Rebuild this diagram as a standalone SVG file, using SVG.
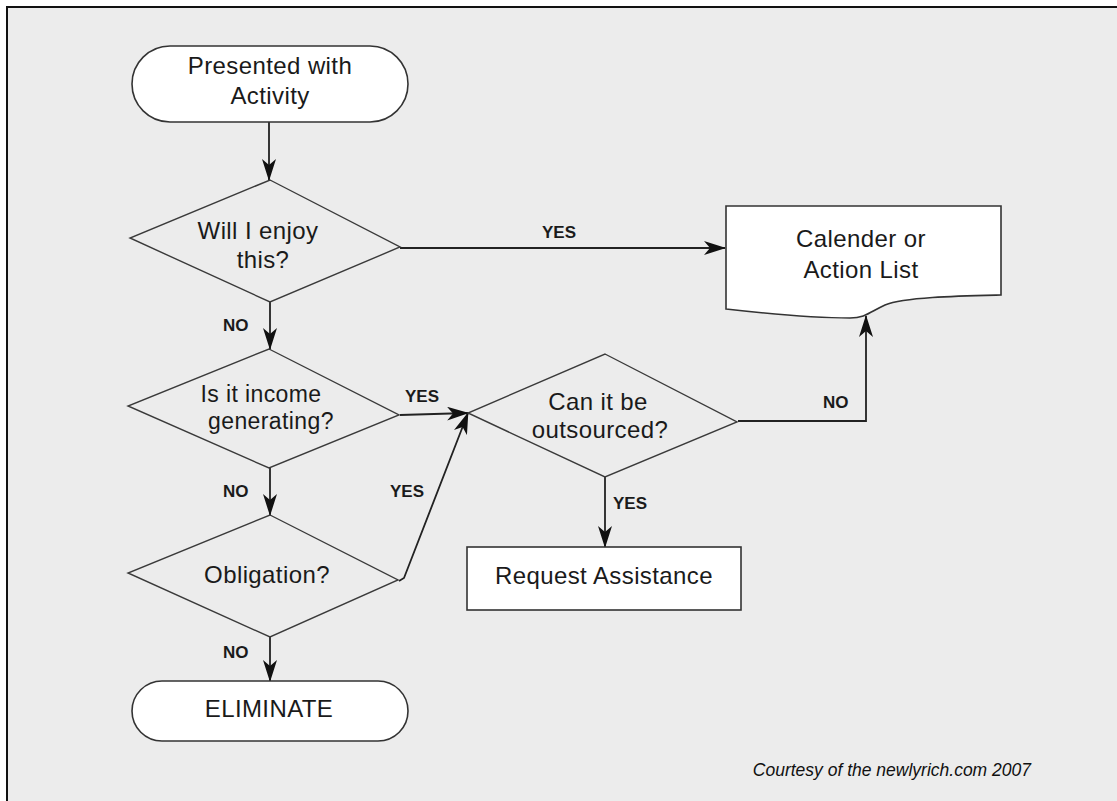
<svg xmlns="http://www.w3.org/2000/svg" width="1117" height="801" viewBox="0 0 1117 801">
<defs>
<style>
.shape{fill:#fff;stroke:#333;stroke-width:1.6}
.dia{fill:none;stroke:#3a3a3a;stroke-width:1.4}
.conn{fill:none;stroke:#222;stroke-width:1.8}
.t{font-family:"Liberation Sans",Arial,sans-serif;font-size:24px;letter-spacing:0.4px;fill:#1a1a1a;text-anchor:middle}
.lbl{font-family:"Liberation Sans",Arial,sans-serif;font-size:17px;font-weight:bold;fill:#1a1a1a}
.credit{font-family:"Liberation Sans",Arial,sans-serif;font-size:17.5px;font-style:italic;fill:#111}
</style>
<marker id="ah" viewBox="0 0 22 14" refX="21" refY="7" markerWidth="22" markerHeight="14" markerUnits="userSpaceOnUse" orient="auto">
<path d="M0,0 L22,7 L0,14 L6,7 Z" fill="#111"/>
</marker>
</defs>
<rect x="0" y="0" width="1117" height="801" fill="#fff"/>
<rect x="7" y="7" width="1110" height="794" fill="#ececec"/>
<line x1="6" y1="7" x2="1117" y2="7" stroke="#111" stroke-width="2"/>
<line x1="7" y1="6" x2="7" y2="801" stroke="#111" stroke-width="2"/>

<g id="connectors">
<path class="conn" d="M269,122 V180" marker-end="url(#ah)"/>
<path class="conn" d="M270,302 V349" marker-end="url(#ah)"/>
<path class="conn" d="M270,468 V515" marker-end="url(#ah)"/>
<path class="conn" d="M270,637 V681" marker-end="url(#ah)"/>
<path class="conn" d="M400,248 H725" marker-end="url(#ah)"/>
<path class="conn" d="M400,415 L468,413" marker-end="url(#ah)"/>
<path class="conn" d="M399,581 L404,578 L468,413" marker-end="url(#ah)"/>
<path class="conn" d="M738,421 H866 V316" marker-end="url(#ah)"/>
<path class="conn" d="M605,477 V547" marker-end="url(#ah)"/>
<text class="lbl" x="542" y="238">YES</text>
<text class="lbl" x="223" y="331">NO</text>
<text class="lbl" x="223" y="497">NO</text>
<text class="lbl" x="223" y="658">NO</text>
<text class="lbl" x="405" y="402">YES</text>
<text class="lbl" x="390" y="497">YES</text>
<text class="lbl" x="613" y="509">YES</text>
<text class="lbl" x="823" y="408">NO</text>
</g>

<g id="start">
<rect class="shape" x="132" y="46" width="276" height="76" rx="38" ry="38"/>
<text class="t" x="270" y="74">Presented with</text>
<text class="t" x="270" y="104">Activity</text>
</g>

<g id="enjoy">
<polygon class="dia" points="270,180 400,247 270,302 130,238"/>
<text class="t" x="258" y="239">Will I enjoy</text>
<text class="t" x="263" y="268">this?</text>
</g>

<g id="income">
<polygon class="dia" points="269,349 399,415 269,468 128,406"/>
<text class="t" x="261" y="402" style="font-size:23px">Is it income</text>
<text class="t" x="271" y="429" style="font-size:23px">generating?</text>
</g>

<g id="obligation">
<polygon class="dia" points="270,515 398,580 270,637 128,573"/>
<text class="t" x="267" y="583">Obligation?</text>
</g>

<g id="eliminate">
<rect class="shape" x="132" y="681" width="276" height="60" rx="30" ry="30"/>
<text class="t" x="269" y="717">ELIMINATE</text>
</g>

<g id="outsource">
<polygon class="dia" points="605,354 737,422 605,477 468,413"/>
<text class="t" x="598" y="410">Can it be</text>
<text class="t" x="600" y="438">outsourced?</text>
</g>

<g id="calendar">
<path class="shape" d="M726,206 H1001 V295 C960,296 905,297 885,305 C870,312 865,318 850,318 C810,318 770,314 726,309 Z"/>
<text class="t" x="861" y="247">Calender or</text>
<text class="t" x="861" y="278">Action List</text>
</g>

<g id="request">
<rect class="shape" x="467" y="547" width="274" height="63"/>
<text class="t" x="604" y="584">Request Assistance</text>
</g>

<text class="credit" x="1031" y="776" text-anchor="end">Courtesy of the newlyrich.com 2007</text>
</svg>
